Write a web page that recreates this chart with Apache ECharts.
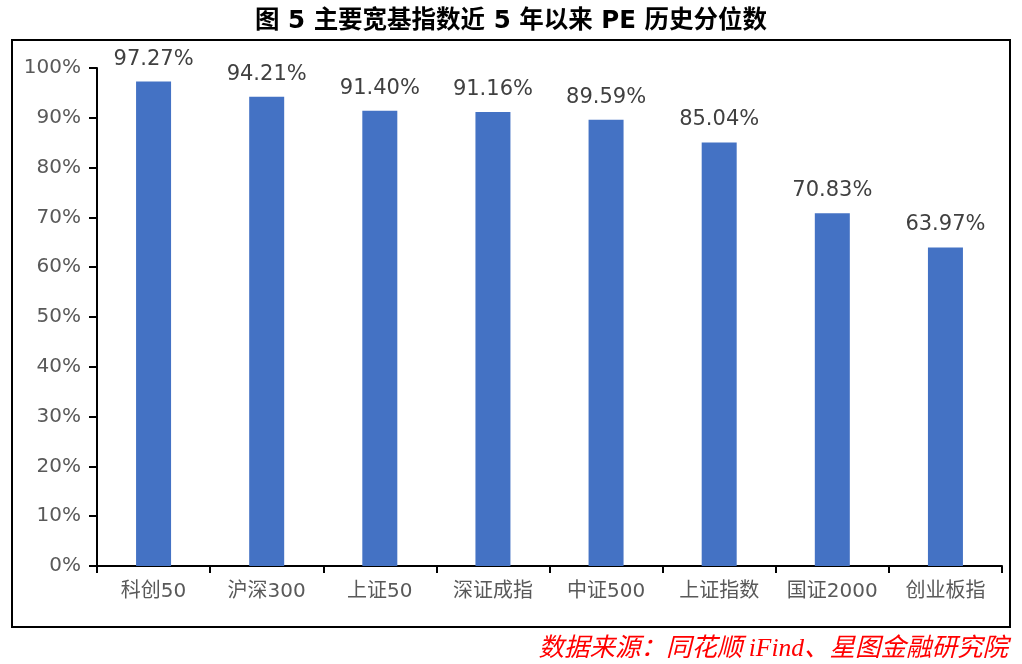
<!DOCTYPE html>
<html lang="zh">
<head>
<meta charset="UTF-8">
<title>主要宽基指数 PE 历史分位数</title>
<script src="https://cdn.jsdelivr.net/npm/echarts@6/dist/echarts.min.js"></script>
<style>
  html, body { margin: 0; padding: 0; background: #fff; }
  #chart { width: 1022px; height: 664px; }
</style>
</head>
<body>
<div id="chart"></div>
<script>
var categories = ['科创50', '沪深300', '上证50', '深证成指', '中证500', '上证指数', '国证2000', '创业板指'];
var peQuantile = [97.27, 94.21, 91.40, 91.16, 89.59, 85.04, 70.83, 63.97];

var baseFont = '"DejaVu Sans", "Noto Sans CJK SC", sans-serif';

var chart = echarts.init(document.getElementById('chart'));
var option = {
    animation: false,
    title: {
        text: '图 5 主要宽基指数近 5 年以来 PE 历史分位数',
        left: 'center',
        top: 4,
        textStyle: { fontFamily: baseFont, fontWeight: 'bold', fontSize: 24.5, color: '#000' }
    },
    graphic: [
        {
            type: 'rect',
            shape: { x: 12, y: 40, width: 998, height: 587 },
            style: { fill: 'none', stroke: '#000', lineWidth: 2 }
        },
        {
            type: 'text',
            right: 14,
            top: 637,
            style: {
                text: '数据来源：同花顺 iFind、星图金融研究院',
                fill: '#ff0000',
                font: 'italic 25.5px "Liberation Serif", "Noto Sans CJK SC"'
            }
        }
    ],
    grid: { left: 97, right: 20, top: 68, bottom: 98 },
    xAxis: {
        type: 'category',
        data: categories,
        axisLine: { lineStyle: { color: '#000', width: 2 } },
        axisTick: { show: true, interval: 0, length: 7, lineStyle: { color: '#000', width: 2 } },
        axisLabel: { interval: 0, color: '#595959', fontSize: 20, margin: 16, fontFamily: baseFont }
    },
    yAxis: {
        type: 'value',
        min: 0,
        max: 100,
        interval: 10,
        splitLine: { show: false },
        axisLine: { show: true, lineStyle: { color: '#000', width: 2 } },
        axisTick: { show: true, length: 8, lineStyle: { color: '#000', width: 2 } },
        axisLabel: { color: '#595959', fontSize: 20, margin: 16, formatter: '{value}%', fontFamily: baseFont }
    },
    series: [{
        type: 'bar',
        data: peQuantile,
        barWidth: 35,
        itemStyle: { color: '#4472c4' },
        label: {
            show: true,
            position: 'top',
            distance: 12,
            color: '#404040',
            fontSize: 21,
            fontFamily: baseFont,
            formatter: function (p) { return p.value.toFixed(2) + '%'; }
        }
    }]
};
chart.setOption(option);
</script>
</body>
</html>
